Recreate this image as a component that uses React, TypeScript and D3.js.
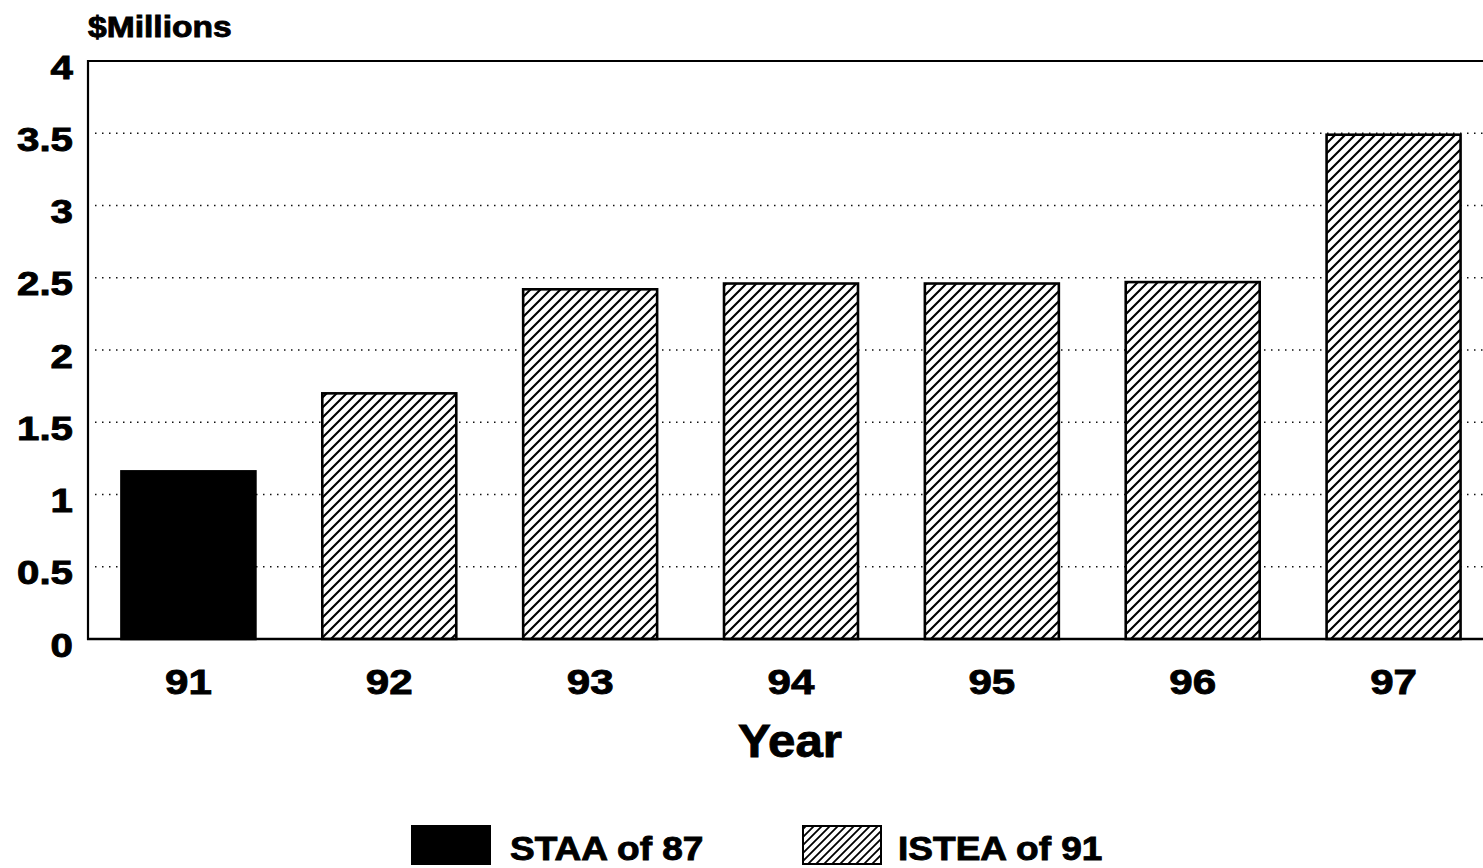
import React from 'react';
import * as d3 from 'd3';

const years = ['91', '92', '93', '94', '95', '96', '97'];
const values = [1.16, 1.70, 2.42, 2.46, 2.46, 2.47, 3.49];
const programOfYear = ['STAA of 87', 'ISTEA of 91', 'ISTEA of 91', 'ISTEA of 91', 'ISTEA of 91', 'ISTEA of 91', 'ISTEA of 91'];
const programs = ['STAA of 87', 'ISTEA of 91'];
const yTicks = [0, 0.5, 1, 1.5, 2, 2.5, 3, 3.5, 4];
const yTitle = '$Millions';
const xTitle = 'Year';

const W = 1483;
const H = 868;
const FONT = '"Liberation Sans", Arial, Helvetica, sans-serif';

export default function App() {
  const x = d3.scaleBand<string>().domain(years).range([88, 1494]).paddingInner(0.333).paddingOuter(0.1665);
  const y = d3.scaleLinear().domain([0, 4]).range([639, 61]);
  const fillFor = (p: string) => (p === programs[0] ? '#000' : 'url(#hatch)');

  const legendX = [412, 803];
  const legendTextX = [510, 898];
  const heavy = { stroke: '#000', strokeWidth: 0.9, paintOrder: 'stroke' as const };

  return (
    <svg width={W} height={H} style={{ position: 'absolute', left: 0, top: 0, display: 'block', background: '#fff' }}>
      <defs>
        <pattern id="hatch" patternUnits="userSpaceOnUse" width={10} height={10}>
          <rect width={10} height={10} fill="#fff" />
          <path d="M-2.5,2.5 l5,-5 M0,10 l10,-10 M7.5,12.5 l5,-5" stroke="#000" strokeWidth={2.1} />
        </pattern>
        <pattern id="hatchLegend" patternUnits="userSpaceOnUse" width={8} height={8}>
          <rect width={8} height={8} fill="#fff" />
          <path d="M-2,2 l4,-4 M0,8 l8,-8 M6,10 l4,-4" stroke="#000" strokeWidth={1.8} />
        </pattern>
      </defs>

      {/* gridlines */}
      {yTicks.filter((t) => t > 0 && t < 4).map((t) => (
        <line key={'g' + t} x1={95} x2={W} y1={y(t)} y2={y(t)} stroke="#111" strokeWidth={1.5} strokeDasharray="1.5 5.5" />
      ))}

      {/* bars */}
      {years.map((yr, i) => (
        <rect
          key={yr}
          x={x(yr)!}
          y={y(values[i])}
          width={x.bandwidth()}
          height={y(0) - y(values[i])}
          fill={fillFor(programOfYear[i])}
          stroke="#000"
          strokeWidth={2.6}
        />
      ))}

      {/* frame */}
      <line x1={88} x2={W} y1={61} y2={61} stroke="#000" strokeWidth={2.2} />
      <line x1={88} x2={88} y1={60} y2={640} stroke="#000" strokeWidth={2.2} />
      <line x1={87} x2={W} y1={639} y2={639} stroke="#000" strokeWidth={2.6} />

      {/* y tick labels */}
      {yTicks.map((t) => (
        <text
          key={'yt' + t}
          transform={`translate(73,${y(t) + 17.5}) scale(1.22,1)`}
          textAnchor="end"
          fontFamily={FONT}
          fontWeight="bold"
          fontSize={33}
          fill="#000"
          {...heavy}
        >
          {String(t)}
        </text>
      ))}

      {/* y title */}
      <text transform="translate(88,37) scale(1.12,1)" fontFamily={FONT} fontWeight="bold" fontSize={30} fill="#000" {...heavy}>
        {yTitle}
      </text>

      {/* x tick labels */}
      {years.map((yr) => (
        <text
          key={'xt' + yr}
          transform={`translate(${x(yr)! + x.bandwidth() / 2},694) scale(1.17,1)`}
          textAnchor="middle"
          fontFamily={FONT}
          fontWeight="bold"
          fontSize={36}
          fill="#000"
          {...heavy}
        >
          {yr}
        </text>
      ))}

      {/* x title */}
      <text transform="translate(790,757) scale(1.07,1)" textAnchor="middle" fontFamily={FONT} fontWeight="bold" fontSize={46} fill="#000" {...heavy}>
        {xTitle}
      </text>

      {/* legend */}
      {programs.map((p, i) => (
        <g key={p}>
          <rect
            x={legendX[i]}
            y={826}
            width={78}
            height={38}
            fill={i === 0 ? '#000' : 'url(#hatchLegend)'}
            stroke="#000"
            strokeWidth={2}
          />
          <text
            transform={`translate(${legendTextX[i]},860) scale(1.09,1)`}
            fontFamily={FONT}
            fontWeight="bold"
            fontSize={34}
            fill="#000"
            {...heavy}
          >
            {p}
          </text>
        </g>
      ))}
    </svg>
  );
}
